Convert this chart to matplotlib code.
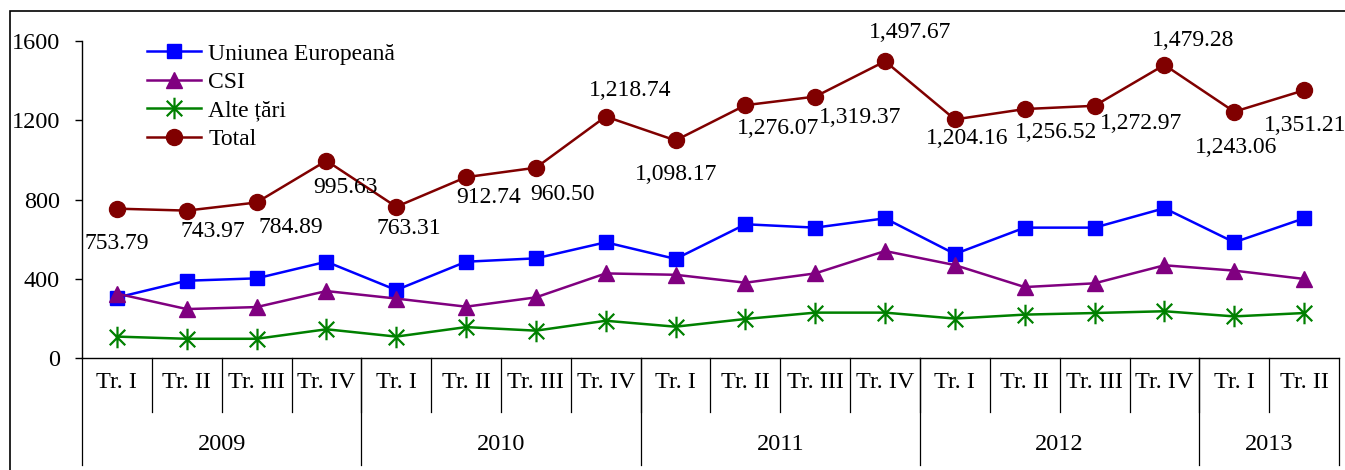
import numpy as np
import matplotlib
matplotlib.use("Agg")
from matplotlib import pyplot as plt
from matplotlib.path import Path
from matplotlib.patches import Rectangle

plt.rcParams['font.family'] = ['Liberation Serif', 'DejaVu Serif']

# date
years = ['2009', '2010', '2011', '2012', '2013']
quarters_per_year = [4, 4, 4, 4, 2]
quarter_names = ['Tr. I', 'Tr. II', 'Tr. III', 'Tr. IV']

ue = [305, 390, 402, 486, 343, 486, 503, 584, 500, 675, 658, 705, 525, 658, 658, 756, 584, 705]
csi = [325, 247, 257, 338, 300, 259, 306, 427, 420, 380, 427, 540, 469, 358, 377, 468, 441, 399]
alte = [108, 97, 97, 145, 108, 156, 138, 188, 158, 197, 229, 229, 199, 219, 227, 236, 210, 227]
total = [753.79, 743.97, 784.89, 995.63, 763.31, 912.74, 960.50, 1218.74, 1098.17,
         1276.07, 1319.37, 1497.67, 1204.16, 1256.52, 1272.97, 1479.28, 1243.06, 1351.21]

# pozitia etichetelor fata de punct (pixeli)
label_off = [(0, -35), (26, -21), (34, -25), (19, -27), (13, -22), (23, -20), (27, -27),
             (24, 26), (1, -34), (33, -23), (45, -21), (25, 29), (12, -19), (31, -23),
             (46, -18), (29, 24), (2, -36), (1, -35)]

quarters = []
for n in quarters_per_year:
    quarters += quarter_names[:n]
x = np.arange(len(quarters))

# marker asterisc (vertical + X)
star = Path([(0, -1), (0, 1), (-0.72, -0.72), (0.72, 0.72), (-0.72, 0.72), (0.72, -0.72)],
            [Path.MOVETO, Path.LINETO, Path.MOVETO, Path.LINETO, Path.MOVETO, Path.LINETO])

fig = plt.figure(figsize=(13.45, 4.70), dpi=100)
ax = fig.add_axes([82 / 1345, 1 - 358 / 470, (1339 - 82) / 1345, (358 - 41) / 470])

fs = 17
fs_ax = 17.5
ax.plot(x, ue, color='#0000FF', lw=1.8, marker='s', ms=10.5, mfc='#0000FF', mec='#0000FF',
        label='Uniunea Europeană', zorder=3)
ax.plot(x, csi, color='#800080', lw=1.8, marker='^', ms=11.5, mfc='#800080', mec='#800080',
        label='CSI', zorder=3)
ax.plot(x, alte, color='#008000', lw=1.8, marker=star, ms=15.5, mfc='none', mec='#008000',
        mew=1.6, label='Alte țări', zorder=3)
ax.plot(x, total, color='#800000', lw=1.8, marker='o', ms=11.5, mfc='#800000', mec='#800000',
        label='Total', zorder=3)

for xi, v, off in zip(x, total, label_off):
    ax.annotate(f'{v:,.2f}', (xi, v), xytext=off, textcoords='offset pixels',
                ha='center', va='center', fontsize=fs, color='black', zorder=4)

ax.set_xlim(-0.5, len(x) - 0.5)
ax.set_ylim(0, 1600)
ax.set_yticks([0, 400, 800, 1200, 1600])
ax.tick_params(axis='y', direction='out', length=5, width=1, pad=11, labelsize=fs_ax)
ax.set_xticks([])
for s in ['top', 'right']:
    ax.spines[s].set_visible(False)
ax.spines['left'].set_linewidth(1)
ax.spines['bottom'].set_linewidth(1)

# axa de categorii pe doua niveluri
trans = ax.get_xaxis_transform()
q_low = -54 / 317
y_low = -107 / 317
for i, q in enumerate(quarters):
    ax.text(i, -25 / 317, q, transform=trans, ha='center', va='center', fontsize=fs_ax)
    if i < len(quarters) - 1:
        ax.plot([i + 0.5, i + 0.5], [0, q_low], transform=trans, color='black', lw=0.9,
                clip_on=False)
start = 0
edges = [-0.5]
for yr, n in zip(years, quarters_per_year):
    ax.text(start + (n - 1) / 2, -87 / 317, yr, transform=trans, ha='center', va='center',
            fontsize=fs_ax)
    start += n
    edges.append(start - 0.5)
for e in edges:
    ax.plot([e, e], [0, y_low], transform=trans, color='black', lw=0.9, clip_on=False)

leg = fig.legend(loc='upper left', bbox_to_anchor=(147 / 1345, 1 - 43 / 470), frameon=False,
                 fontsize=fs, handlelength=2.3, handletextpad=0.3, labelspacing=0.3,
                 borderpad=0, borderaxespad=0)

# chenar
fig.add_artist(Rectangle((10 / 1345, -0.1), 1.2, 1 - 11 / 470 + 0.1, transform=fig.transFigure,
                         fill=False, edgecolor='black', lw=1.2))

fig.savefig('out.png', dpi=100)
